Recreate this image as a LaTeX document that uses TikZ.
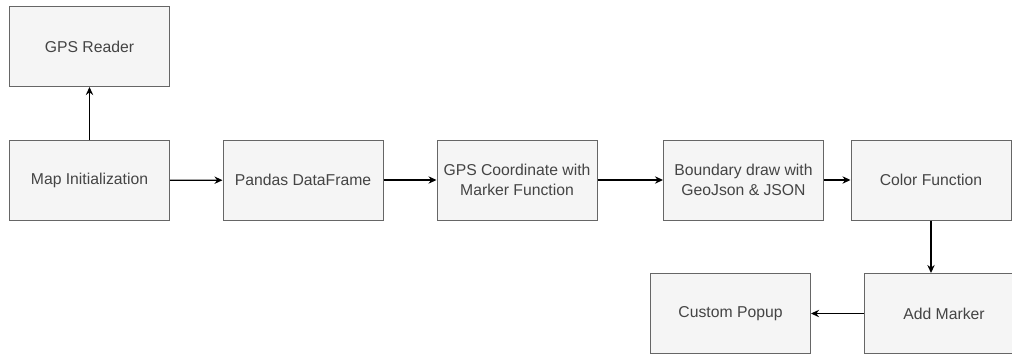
\documentclass[tikz,border=0pt]{standalone}
\usepackage{fontspec}
\setmainfont{Liberation Sans}
\usetikzlibrary{arrows.meta,positioning}
\definecolor{boxfill}{HTML}{F5F5F5}
\definecolor{boxline}{HTML}{666666}
\definecolor{boxtext}{HTML}{444444}
\tikzset{
  stagebox/.style={rectangle, draw=boxline, fill=boxfill, line width=0.75pt, minimum width=120pt, minimum height=60pt, align=center, font=\fontsize{11.8}{15}\selectfont, text=boxtext, inner sep=2pt},
  flow/.style={-{Stealth[length=6pt,width=5.5pt]}, line width=1pt, black},
}
\begin{document}
\begin{tikzpicture}[x=0.75pt, y=-0.75pt]
  \useasboundingbox (0,0) rectangle (1012,354);

  % Top row
  \node[stagebox] (reader) at (89.5,46.5) {GPS Reader};
  \node[stagebox] (init) at (89.5,180.5) {Map Initialization};
  \node[stagebox] (pandas) at (303,180) {Pandas DataFrame};
  \node[stagebox] (coord) at (517,180) {GPS Coordinate with\\Marker Function};
  \node[stagebox] (bound) at (743.5,180) {Boundary draw with\\GeoJson \& JSON};
  \node[stagebox] (color) at (931,180) {Color Function};

  % Bottom row
  \node[stagebox] (marker) at (944,313.5) {Add Marker};
  \node[stagebox] (popup) at (730.5,313.5) {Custom Popup};

  % Connectors
  \draw[flow] (init) -- (reader);
  \draw[flow] (init) -- (pandas);
  \draw[flow] (pandas) -- (coord);
  \draw[flow] (coord) -- (bound);
  \draw[flow] (bound) -- (color);
  \draw[flow] (color) -- (color.south |- marker.north);
  \draw[flow] (marker) -- (popup);
\end{tikzpicture}
\end{document}
